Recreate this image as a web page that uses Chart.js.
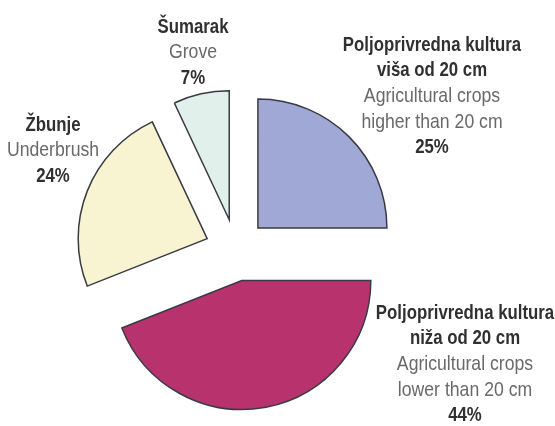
<!DOCTYPE html>
<html>
<head>
<meta charset="utf-8">
<script src="https://cdn.jsdelivr.net/npm/chart.js@4.4.1/dist/chart.umd.min.js"></script>
<style>
  html, body { margin: 0; padding: 0; background: #fff; }
  #wrap { position: relative; width: 555px; height: 426px; }
</style>
</head>
<body>
<div id="wrap"><canvas id="pie"></canvas></div>
<script>
// slices, clockwise from 12 o'clock
const nameLocal = [
  ['Poljoprivredna kultura', 'viša od 20 cm'],
  ['Poljoprivredna kultura', 'niža od 20 cm'],
  ['Žbunje'],
  ['Šumarak']
];
const nameEnglish = [
  ['Agricultural crops', 'higher than 20 cm'],
  ['Agricultural crops', 'lower than 20 cm'],
  ['Underbrush'],
  ['Grove']
];
const shares = [25, 44, 24, 7];
const sliceColors = ['#a0a9d6', '#b8336e', '#f8f3d1', '#e2f0eb'];

// where each text block sits (center x, middle of first line)
const labelPos = [[432, 43], [465, 311], [53, 123], [193, 25]];

const PIE_R = 129;
const OFFSET = 124; // chart.js moves a slice by offset / 4

// chart.js grows the radius and trims the angle of slices that are not ~90deg
// when offset is used; undo that so every slice keeps the same radius and edges
const evenRadius = {
  id: 'evenRadius',
  beforeDatasetsDraw(chart) {
    chart.getDatasetMeta(0).data.forEach(arc => {
      if (arc._fixed) return;
      const fix = 1 - Math.sin(Math.min(Math.PI, arc.circumference));
      const grow = (OFFSET / 4) * fix;
      arc.outerRadius = PIE_R - grow;
      const trim = grow / Math.PI / PIE_R / 2;
      arc.startAngle -= trim;
      arc.endAngle += trim;
      arc._fixed = true;
    });
  }
};

const labelPlugin = {
  id: 'sliceLabels',
  afterDraw(chart) {
    const ctx = chart.ctx;
    ctx.save();
    ctx.textAlign = 'center';
    ctx.textBaseline = 'alphabetic';
    shares.forEach((v, i) => {
      let [x, y] = labelPos[i];
      const lines = [];
      nameLocal[i].forEach(t => lines.push({ t, bold: true }));
      nameEnglish[i].forEach(t => lines.push({ t, bold: false }));
      lines.push({ t: v + '%', bold: true });
      lines.forEach(l => {
        ctx.save();
        ctx.font = (l.bold ? 'bold ' : '') + '21px "Liberation Sans", Arial, sans-serif';
        ctx.fillStyle = l.bold ? '#303030' : '#696969';
        ctx.translate(x, y + 7.5);
        ctx.scale(l.bold ? 0.8 : 0.84, 1); // narrow, like a condensed face
        ctx.fillText(l.t, 0, 0);
        ctx.restore();
        y += 25.7;
      });
    });
    ctx.restore();
  }
};

new Chart(document.getElementById('pie'), {
  type: 'pie',
  data: {
    labels: nameEnglish.map(n => n.join(' ')),
    datasets: [{
      data: shares,
      backgroundColor: sliceColors,
      borderColor: '#3a3a44',
      borderWidth: 1.5,
      borderJoinStyle: 'miter',
      offset: OFFSET,
      clip: false
    }]
  },
  options: {
    responsive: true,
    maintainAspectRatio: false,
    animation: false,
    radius: PIE_R,
    layout: { padding: { left: 0, right: 83, top: 74, bottom: 0 } },
    plugins: {
      legend: { display: false },
      tooltip: { enabled: false }
    }
  },
  plugins: [evenRadius, labelPlugin]
});
</script>
</body>
</html>
